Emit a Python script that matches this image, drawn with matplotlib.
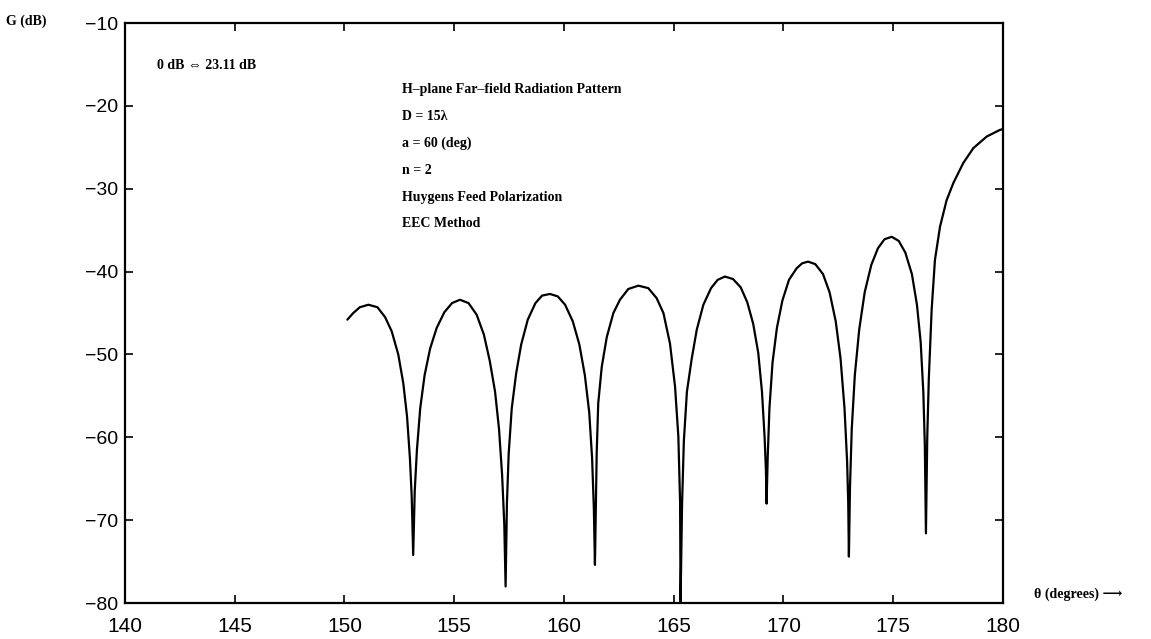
import matplotlib
matplotlib.use("Agg")
import matplotlib.pyplot as plt

# ------------------------------------------------------------------ #
#  Data (theta in deg, G in dB)  #
# ------------------------------------------------------------------ #

# lobe by lobe, null to null
theta = [
    150.13, 150.40, 150.70, 151.09, 151.50, 151.85, 152.15, 152.45, 152.68,
    152.85, 152.98, 153.06, 153.13,
    153.20, 153.30, 153.45, 153.65, 153.90, 154.20, 154.55, 154.90, 155.26,
    155.65, 156.02, 156.35, 156.62, 156.86, 157.04, 157.18, 157.28, 157.34,
    157.40, 157.48, 157.62, 157.82, 158.05, 158.35, 158.70, 159.00, 159.36,
    159.72, 160.05, 160.40, 160.70, 160.95, 161.15, 161.28, 161.36, 161.41,
    161.49, 161.56, 161.72, 161.95, 162.25, 162.55, 162.93, 163.39, 163.84,
    164.22, 164.53, 164.83, 165.06, 165.21, 165.29, 165.31,
    165.38, 165.46, 165.60, 165.82, 166.05, 166.35, 166.70, 167.00, 167.33,
    167.70, 168.05, 168.35, 168.62, 168.85, 169.02, 169.14, 169.20, 169.23,
    169.28, 169.36, 169.50, 169.70, 169.95, 170.25, 170.60, 170.85, 171.12,
    171.45, 171.80, 172.10, 172.38, 172.60, 172.78, 172.90, 172.95, 172.98,
    173.03, 173.11, 173.25, 173.45, 173.70, 174.00, 174.30, 174.60, 174.93,
    175.25, 175.55, 175.85, 176.08, 176.25, 176.37, 176.44, 176.49,
    176.55, 176.62, 176.75, 176.90, 177.13, 177.43, 177.74, 178.19, 178.65,
    179.26, 179.86, 180.00,
]
gain_db = [
    -45.8, -45.0, -44.3, -44.0, -44.3, -45.5, -47.2, -50.0, -53.5,
    -57.5, -62.5, -67.0, -74.2,
    -66.5, -61.5, -56.5, -52.5, -49.3, -46.8, -44.9, -43.8, -43.4,
    -43.8, -45.2, -47.6, -50.8, -54.5, -59.0, -64.5, -70.5, -78.0,
    -68.0, -62.0, -56.5, -52.3, -48.8, -45.8, -43.8, -42.9, -42.7,
    -43.0, -44.0, -46.0, -48.8, -52.5, -57.0, -62.5, -68.5, -75.4,
    -61.9, -55.9, -51.5, -47.9, -45.0, -43.4, -42.1, -41.7, -42.0,
    -43.2, -45.0, -48.7, -53.9, -59.9, -67.9, -80.0,
    -68.0, -60.5, -54.5, -50.5, -47.0, -44.0, -42.0, -41.0, -40.6,
    -40.9, -41.9, -43.7, -46.3, -49.8, -54.5, -60.0, -64.0, -68.0,
    -62.5, -56.5, -51.0, -46.8, -43.5, -41.0, -39.6, -39.0, -38.8,
    -39.1, -40.3, -42.5, -46.0, -50.5, -56.5, -63.0, -68.0, -74.4,
    -66.0, -59.0, -52.5, -47.0, -42.5, -39.2, -37.2, -36.1, -35.8,
    -36.3, -37.7, -40.3, -44.0, -48.5, -54.5, -61.0, -71.6,
    -60.0, -53.0, -44.6, -38.6, -34.6, -31.4, -29.3, -26.9, -25.1,
    -23.7, -22.9, -22.8,
]

x_ticks = [140, 145, 150, 155, 160, 165, 170, 175, 180]
y_ticks = [-80, -70, -60, -50, -40, -30, -20, -10]

note_lines = [
    "H\u2013plane Far\u2013field Radiation Pattern",
    "D = 15\u03bb",
    "a = 60 (deg)",
    "n = 2",
    "Huygens Feed Polarization",
    "EEC Method",
]

SERIF = ["Liberation Serif", "DejaVu Serif"]
SANS = ["Liberation Sans", "DejaVu Sans"]

fig = plt.figure(figsize=(11.51, 6.39), dpi=100)
ax = fig.add_axes([0.1086, 0.0563, 0.7628, 0.9077])

ax.plot(theta, gain_db, color="black", lw=1.6,
        solid_joinstyle="round", solid_capstyle="round")

ax.set_xlim(140, 180)
ax.set_ylim(-80, -10)
ax.set_xticks(x_ticks)
ax.set_yticks(y_ticks)
ax.tick_params(axis="x", direction="in", length=6, width=1.2,
               top=True, labelsize=15, pad=10)
ax.tick_params(axis="y", direction="in", length=6, width=1.2,
               right=True, labelsize=14, pad=5)
for lab in ax.get_xticklabels() + ax.get_yticklabels():
    lab.set_family(SANS)
for sp in ax.spines.values():
    sp.set_linewidth(1.6)

# axis captions placed like the original print
fig.text(0.005, 0.966, "G (dB)", ha="left", va="center",
         fontsize=10, fontweight="bold", family=SERIF)
fig.text(0.898, 0.07, "\u03b8 (degrees) \u27f6", ha="left", va="center",
         fontsize=10, fontweight="bold", family=SERIF)

# annotations
ax.text(0.037, 0.927, "0 dB \u21d4 23.11 dB", transform=ax.transAxes,
        ha="left", va="center", fontsize=10, fontweight="bold", family=SERIF)
y0 = 0.886
for i, line in enumerate(note_lines):
    ax.text(0.316, y0 - i * 0.0465, line, transform=ax.transAxes,
            ha="left", va="center", fontsize=10, fontweight="bold",
            family=SERIF)

fig.savefig("out.png", dpi=100)
